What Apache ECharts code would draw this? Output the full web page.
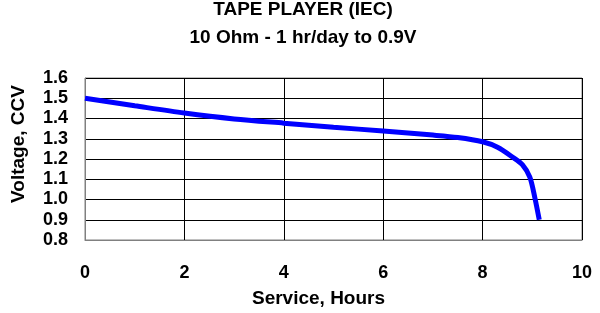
<!DOCTYPE html>
<html>
<head>
<meta charset="utf-8">
<script src="https://cdn.jsdelivr.net/npm/echarts@6/dist/echarts.min.js"></script>
<style>
  html, body { margin: 0; padding: 0; background: #fff; }
  #chart { width: 600px; height: 313px; }
</style>
</head>
<body>
<div id="chart"></div>
<script>
// service hours vs closed circuit voltage
var hours   = [0, 1, 2, 3, 4, 5, 6, 7, 7.5, 8, 8.3, 8.6, 8.8, 8.95, 9.05, 9.14];
var voltage = [1.5, 1.463, 1.427, 1.398, 1.377, 1.357, 1.338, 1.318, 1.306, 1.285, 1.258, 1.21, 1.172, 1.11, 1.01, 0.9];
var titleLines = ['TAPE PLAYER (IEC)', '10 Ohm - 1 hr/day to 0.9V'];

var FONT = '"Liberation Sans", Arial, sans-serif';

var chart = echarts.init(document.getElementById('chart'));

var points = hours.map(function (h, i) { return [h, voltage[i]]; });

var option = {
  animation: false,
  title: {
    text: titleLines.join('\n'),
    left: 303,
    top: -4,
    padding: 0,
    textAlign: 'center',
    textStyle: {
      fontFamily: FONT,
      fontWeight: 'bold',
      fontSize: 19,
      lineHeight: 28,
      color: '#000'
    }
  },
  grid: {
    left: 85,
    right: 18,
    top: 78,
    bottom: 70,
    show: true,
    borderColor: '#808080',
    borderWidth: 1
  },
  xAxis: {
    type: 'value',
    min: 0,
    max: 10,
    interval: 2,
    name: 'Service, Hours',
    nameLocation: 'middle',
    nameGap: 49,
    nameTextStyle: {
      fontFamily: FONT, fontWeight: 'bold', fontSize: 19, color: '#000',
      padding: [0, 30, 0, 0]
    },
    axisLine: { lineStyle: { color: '#808080', width: 1 } },
    axisTick: { show: false },
    axisLabel: {
      margin: 24,
      fontFamily: FONT, fontWeight: 'bold', fontSize: 18, color: '#000'
    },
    splitLine: { show: true, lineStyle: { color: '#000', width: 1 } }
  },
  yAxis: {
    type: 'value',
    min: 0.8,
    max: 1.6,
    interval: 0.1,
    name: 'Voltage, CCV',
    nameLocation: 'middle',
    nameGap: 57,
    nameTextStyle: {
      fontFamily: FONT, fontWeight: 'bold', fontSize: 19, color: '#000',
      padding: [0, 0, 0, 30]
    },
    axisLine: { show: true, lineStyle: { color: '#808080', width: 1 } },
    axisTick: { show: false },
    axisLabel: {
      margin: 17,
      formatter: function (v) { return v.toFixed(1); },
      fontFamily: FONT, fontWeight: 'bold', fontSize: 18, color: '#000'
    },
    splitLine: { show: true, lineStyle: { color: '#000', width: 1 } }
  },
  series: [
    {
      type: 'line',
      data: points,
      smooth: 0.3,
      showSymbol: false,
      lineStyle: { color: '#0000ff', width: 5 }
    }
  ]
};

chart.setOption(option);
</script>
</body>
</html>
